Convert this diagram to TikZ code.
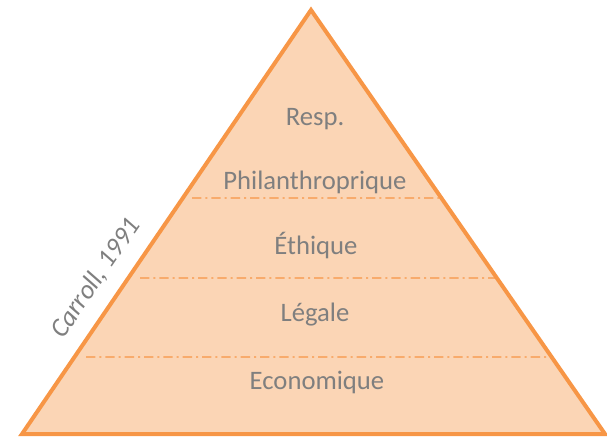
\documentclass[tikz,border=0pt]{standalone}
\usepackage{fontspec}
\setmainfont{Carlito}
\usepackage{tikz}
\usetikzlibrary{positioning,calc}
\usepackage{xcolor}

\definecolor{pyrfill}{HTML}{FBD5B5}
\definecolor{pyrline}{HTML}{F79646}
\definecolor{pyrtext}{HTML}{7F7F7F}

\begin{document}
\begin{tikzpicture}[x=0.75pt,y=-0.75pt,
  level/.style={text=pyrtext,font=\fontsize{20}{24}\selectfont},
  sep/.style={pyrline,line width=1.1pt,dash pattern=on 7pt off 3pt on 1.5pt off 3pt}]
\useasboundingbox (0,0) rectangle (607,436);
\coordinate (top) at (311,10);
\coordinate (bl) at (22,434);
\coordinate (br) at (605,434);
\filldraw[fill=pyrfill,draw=pyrline,line width=3pt,line join=miter] (top) -- (br) -- (bl) -- cycle;
% separators between the levels
\foreach \y/\x in {198/192,278/140,357/86} {
  \coordinate (sl) at (\x,\y);
  \coordinate (sr) at ($(top)!{(\y-10)/424}!(br)$);
  \draw[sep] (sl) -- (sr);
}
\node[level] (resp) at (315,119) {Resp.};
\node[level] (phil) at (315,182) {Philanthroprique};
\node[level] (eth) at (316,246) {Éthique};
\node[level] (leg) at (315,315) {Légale};
\node[level] (eco) at (317,382) {Economique};
\node[level,font=\itshape\fontsize{20}{24}\selectfont,rotate=55.7] (src) at (96,278) {Carroll, 1991};
\end{tikzpicture}
\end{document}
